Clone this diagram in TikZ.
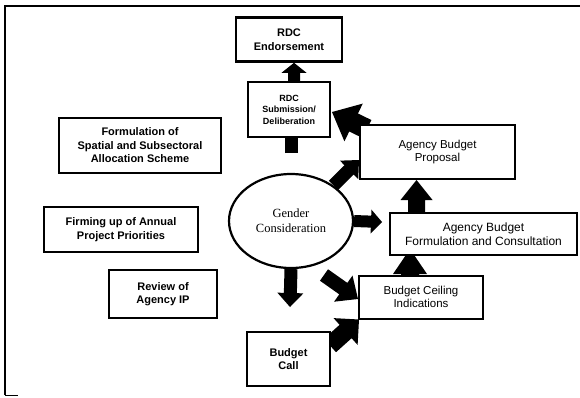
\documentclass[tikz,border=0pt]{standalone}
\usepackage{fontspec}
\setmainfont{Liberation Serif}
\newfontfamily\sansf{Liberation Sans}
\usetikzlibrary{shapes.geometric,calc,shadows}

\pgfdeclarelayer{background}
\pgfsetlayers{background,main}

% block arrow: tail, tip, half shaft width, half head width, head length
\newcommand\blockarrow[5]{%
  \coordinate (bat) at (#1);
  \coordinate (bap) at (#2);
  \coordinate (bab) at ($(bap)!#5!(bat)$);
  \fill[arrowfill] ($(bat)!#3!90:(bap)$) -- ($(bab)!#3!90:(bap)$)
    -- ($(bab)!#4!90:(bap)$) -- (bap) -- ($(bab)!#4!-90:(bap)$)
    -- ($(bab)!#3!-90:(bap)$) -- ($(bat)!#3!-90:(bap)$) -- cycle;
}

\tikzset{
  arrowfill/.style={fill=black},
  box/.style={draw, line width=2pt, fill=white, align=center, inner sep=2pt,
    general shadow={fill=black, shadow xshift=1.3pt, shadow yshift=-1.3pt}},
  boldbox/.style={box, font=\sansf\bfseries\fontsize{11}{13.5}\selectfont},
  smallbox/.style={box, font=\sansf\bfseries\fontsize{9}{11.5}\selectfont},
  plainbox/.style={box, font=\sansf\fontsize{11.5}{13.5}\selectfont},
  hub/.style={draw, ellipse, line width=2.2pt, fill=white, inner sep=0pt,
    align=center, font=\fontsize{12.5}{15}\selectfont},
}

\begin{document}
\begin{tikzpicture}[x=1pt,y=-1pt]
\useasboundingbox (0,0) rectangle (580,397);
\begin{pgfonlayer}{background}
\fill[white] (0,0) rectangle (580,397);
\end{pgfonlayer}

% outer frame (open at right and bottom)
\draw[line width=2.5pt] (5,395) -- (5,6) -- (580,6);
\draw[line width=0.8pt] (5,395) -- (18,395);

% process boxes
\node[boldbox, line width=2.6pt, minimum width=106pt, minimum height=44pt] (endorse) at (289,39.5) {RDC\\Endorsement};
\node[smallbox, minimum width=82pt, minimum height=55pt] (submit) at (289,109.5) {RDC\\Submission/\\Deliberation};
\node[boldbox, minimum width=162pt, minimum height=55pt] (formul) at (140,145.5) {Formulation of\\Spatial and Subsectoral\\Allocation Scheme};
\node[plainbox, minimum width=155pt, minimum height=54pt] (proposal) at (437.5,152) {Agency Budget\\Proposal};
\node[hub, minimum width=124pt, minimum height=94pt] (ell) at (291,221) {Gender\\Consideration};
\node[boldbox, minimum width=154pt, minimum height=45pt] (firming) at (121,229.5) {Firming up of Annual\\Project Priorities};
\node[plainbox, font=\sansf\fontsize{12}{14}\selectfont, minimum width=187pt, minimum height=42pt] (fc) at (483.5,234) {Agency Budget\\Formulation and Consultation};
\node[boldbox, minimum width=108pt, minimum height=48pt] (review) at (163,294) {Review of\\Agency IP};
\node[plainbox, minimum width=124pt, minimum height=43pt] (ceiling) at (421,297) {Budget Ceiling\\Indications};
\node[boldbox, minimum width=83pt, minimum height=54pt] (call) at (288.5,359) {Budget\\Call};

% free ends of connectors that stop short of a box
\coordinate (subStub) at (291,153);
\coordinate (callTip) at (290,307);
\coordinate (ceiTail) at (324,275);

\begin{pgfonlayer}{background}
  \blockarrow{$(submit.north)+(5,0)$}{$(endorse.south)+(5,0)$}{6pt}{12.5pt}{10pt}
  \draw[line width=13pt] (subStub) -- ($(submit.south)+(2,-2)$);
  \blockarrow{$(proposal.north west)+(8,5)$}{$(submit.east)+(1,2.5)$}{10pt}{21pt}{24pt}
  \blockarrow{ell.40}{$(proposal.west)+(0,8)$}{6.5pt}{13pt}{14pt}
  \blockarrow{ell.east}{$(fc.west)+(-7,-12)$}{6pt}{12pt}{11pt}
  \blockarrow{$(fc.north)+(-67,1)$}{$(proposal.south)+(-21,0)$}{8.5pt}{16pt}{20pt}
  \blockarrow{$(ceiling.north)+(-11,1)$}{$(fc.south)+(-73.5,-7)$}{9pt}{17pt}{25pt}
  \blockarrow{ell.south}{callTip}{6.5pt}{13pt}{14pt}
  \blockarrow{ceiTail}{$(ceiling.west)+(0,2)$}{7pt}{16pt}{18pt}
  \blockarrow{$(call.east)+(-1,-13.5)$}{$(ceiling.south west)+(1,0)$}{9pt}{18pt}{18pt}
\end{pgfonlayer}

\end{tikzpicture}
\end{document}
